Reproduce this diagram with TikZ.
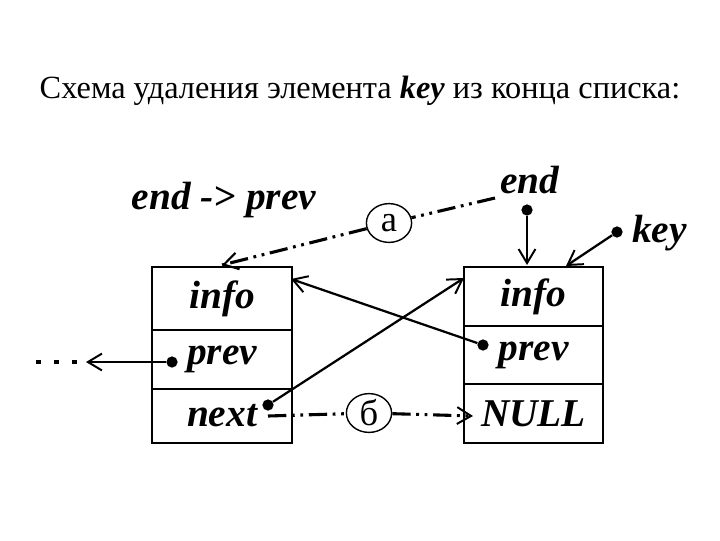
\documentclass[tikz,border=0pt]{standalone}
\usepackage{fontspec}
\setmainfont{Liberation Serif}
\usetikzlibrary{arrows.meta}
\usetikzlibrary{positioning}
\usetikzlibrary{shapes.geometric}
\tikzset{cell/.style = {draw, line width=1pt, outer sep=0, inner sep=0,
                        minimum width=3.5cm, font=\fontsize{28}{30}\selectfont\bfseries\itshape}}
\tikzset{lbl/.style = {inner sep=0, font=\fontsize{28}{30}\selectfont\bfseries\itshape}}
\tikzset{circ/.style = {fill, circle, inner sep = 0, minimum size = 8pt}}
\tikzset{ring/.style = {draw, ellipse, line width=1pt, inner sep=0, minimum width=1.13cm,
                        minimum height=0.97cm, font=\fontsize{26}{28}\selectfont}}
\tikzset{ptr/.style = {line width=1.6pt, -{Straight Barb[length=10pt, width=12pt, line width=1.4pt]}}}
\tikzset{dashdotdot/.style = {line width=2.2pt,
                              dash pattern=on 13pt off 4pt on 2pt off 4pt on 2pt off 4pt}}

\begin{document}
\begin{tikzpicture}[x=0.025cm, y=-0.025cm]
    \useasboundingbox (0,0) rectangle (720,540);

    \node [font=\fontsize{23}{26}\selectfont, anchor=base] (title) at (360,98)
      {Схема удаления элемента \textbf{\textit{key}} из конца списка:};

    % left element
    \node [cell, minimum height=1.575cm, anchor=north west] (linfo) at (152,267) {info};
    \node [cell, minimum height=1.475cm, below=0pt of linfo] (lprev) {prev};
    \node [cell, minimum height=1.35cm, below=0pt of lprev] (lnext) {next};

    % right element
    \node [cell, minimum height=1.475cm, minimum width=3.475cm, anchor=north west] (rinfo) at (464,267) {info};
    \node [cell, minimum height=1.45cm, minimum width=3.475cm, below=0pt of rinfo] (rprev) {prev};
    \node [cell, minimum height=1.475cm, minimum width=3.475cm, below=0pt of rprev] (rnull) {NULL};

    % labels
    \node [lbl, anchor=base] (endprev) at (224,209) {end -> prev};
    \node [lbl, anchor=base] (endlbl) at (530,193) {end};
    \node [lbl, anchor=base west] (keylbl) at (632,242) {key};

    \node [ring] (a) at (389,223) {а};
    \node [ring] (b) at (369,413) {б};

    % pointer dots
    \node [circ] (enddot) at (527,210) {};
    \node [circ] (keydot) at (617,232) {};
    \node [circ] (lpdot) at (172,362) {};
    \node [circ] (rpdot) at (483,345) {};
    \node [circ] (lndot) at (268,405) {};

    \coordinate (rtop) at (527,265);
    \coordinate (rtopr) at (566,266);
    \coordinate (lout) at (86,362);
    \coordinate (ltopr) at (291,279);
    \coordinate (rtopl) at (464,278);
    \coordinate (dl) at (36,362);
    \coordinate (dr) at (78,362);

    \draw [ptr] (enddot) -- (rtop);
    \draw [ptr] (keydot) -- (rtopr);
    \draw [ptr] (lpdot) -- (lout);
    \draw [ptr] (rpdot) -- (ltopr);
    \draw [ptr] (lndot) -- (rtopl);
    \draw [line width=3.5pt, dash pattern=on 3.5pt off 9.3pt] (dl) -- (dr);

    % new links
    \coordinate (ea) at (495,198);
    \coordinate (ltop) at (222,265);
    \coordinate (nx) at (268,416);
    \coordinate (rn) at (473,416);

    \draw [dashdotdot] (ea) -- (a);
    \draw [dashdotdot] (a) -- (ltop);
    \draw [ptr, dash pattern=on 0pt off 100pt] (a) -- (ltop);
    \draw [dashdotdot] (nx) -- (b);
    \draw [dashdotdot] (b) -- (rn);
    \draw [ptr, dash pattern=on 0pt off 200pt] (b) -- (rn);
  \end{tikzpicture}
\end{document}
